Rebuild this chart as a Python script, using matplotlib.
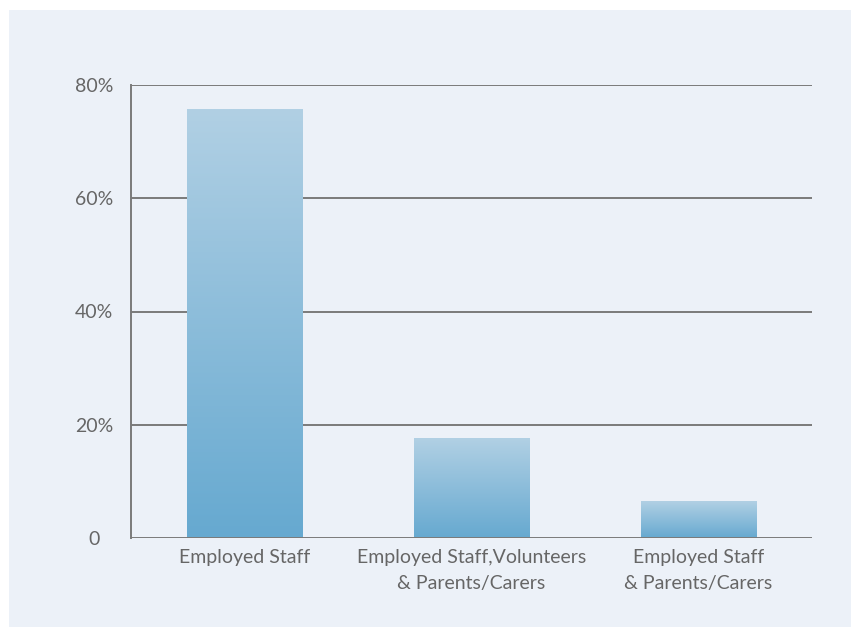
import numpy as np
import matplotlib
matplotlib.use("Agg")
import matplotlib.pyplot as plt
from matplotlib.colors import LinearSegmentedColormap

# data
categories = ["Employed Staff",
              "Employed Staff,Volunteers\n& Parents/Carers",
              "Employed Staff\n& Parents/Carers"]
values = [75.6, 17.5, 6.4]
yticks = [0, 20, 40, 60, 80]
ytick_labels = ["0", "20%", "40%", "60%", "80%"]

panel = "#ECF1F8"
text_col = "#666666"
grid_col = "#7A7A7A"

plt.rcParams["font.family"] = ["Lato", "DejaVu Sans"]

fig = plt.figure(figsize=(8.51, 6.27), dpi=100)
fig.patch.set_facecolor("white")
# light panel behind the chart (white strip on left and top)
fig.patches.append(plt.Rectangle((9 / 851, 0), 1, 1 - 10 / 627,
                                 transform=fig.transFigure,
                                 facecolor=panel, edgecolor="none", zorder=-10))

ax = fig.add_axes([131 / 851, 89 / 627, 681 / 851, 453 / 627])
ax.set_facecolor("none")

x = np.arange(len(categories))
width = 0.507
bars = ax.bar(x, values, width=width, color="none", zorder=3)

cmap = LinearSegmentedColormap.from_list("barfade", ["#66A9D0", "#B1D0E4"])
grad = np.linspace(0, 1, 256).reshape(-1, 1)
for b in bars:
    x0 = b.get_x()
    ax.imshow(grad, cmap=cmap, origin="lower", aspect="auto", zorder=3,
              extent=[x0, x0 + b.get_width(), 0, b.get_height()])

ax.set_xlim(-0.5, len(categories) - 0.5)
ax.set_ylim(0, 80)

# gridlines sit behind the bars, baseline on top
for y in yticks:
    ax.axhline(y, color=grid_col, lw=1.4, zorder=5 if y == 0 else 1)

for s in ["top", "right", "bottom"]:
    ax.spines[s].set_visible(False)
ax.spines["left"].set_color(grid_col)
ax.spines["left"].set_linewidth(1.4)
ax.spines["left"].set_zorder(5)

ax.set_yticks(yticks)
ax.set_yticklabels(ytick_labels)
ax.set_xticks(x)
ax.set_xticklabels(categories, linespacing=1.65)
ax.tick_params(axis="y", length=0, pad=26.6, labelsize=14, labelcolor=text_col)
ax.tick_params(axis="x", length=0, pad=8, labelsize=14, labelcolor=text_col)
for t in ax.get_yticklabels():
    t.set_horizontalalignment("center")

fig.savefig("out.png", dpi=100, facecolor=fig.get_facecolor())
